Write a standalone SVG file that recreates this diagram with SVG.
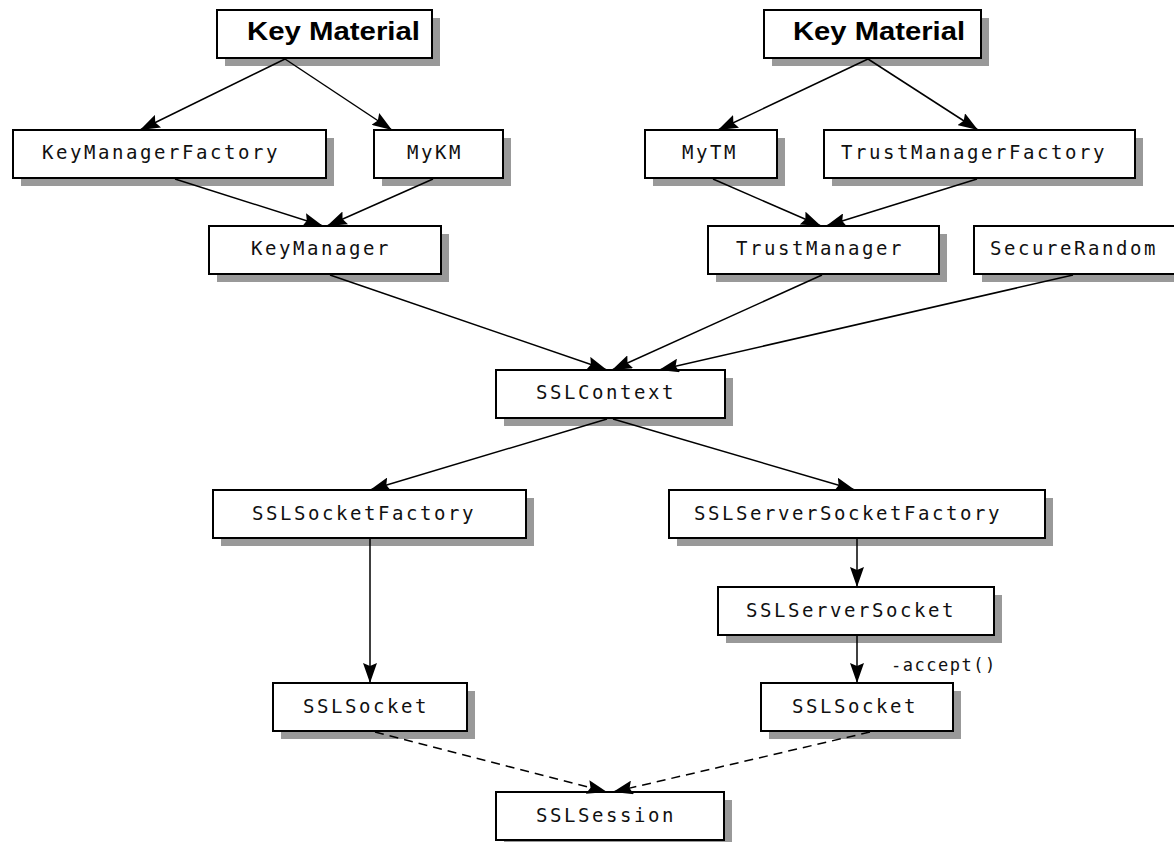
<svg xmlns="http://www.w3.org/2000/svg" width="1174" height="842" viewBox="0 0 1174 842">
<defs>
<style>
.bg{fill:#ffffff}
.sh{fill:#999999}
.box{fill:#ffffff;stroke:#000000;stroke-width:2}
.lbl{font-family:"DejaVu Sans Mono","Liberation Mono",monospace;font-size:19px;letter-spacing:2.56px;fill:#111111}
.km{font-family:"Liberation Sans",Arial,sans-serif;font-size:25px;font-weight:bold;fill:#000000}
.note{font-family:"DejaVu Sans Mono","Liberation Mono",monospace;font-size:17px;letter-spacing:1.5px;fill:#111111}
.ln{stroke:#000000;stroke-width:1.5;fill:none}
.dash{stroke-dasharray:9 6}
</style>
<marker id="ah" viewBox="0 0 20 14" refX="20" refY="7" markerWidth="20" markerHeight="14" markerUnits="userSpaceOnUse" orient="auto">
<path d="M0,0 L20,7 L0,14 L3,7 Z" fill="#000000"/>
</marker>
</defs>
<rect class="bg" x="0" y="0" width="1174" height="842"/>

<g id="keymaterial1">
<rect class="sh" x="225" y="18" width="215" height="48"/>
<rect class="box" x="217" y="10" width="215" height="48"/>
<text class="km" x="247" y="40" textLength="173" lengthAdjust="spacingAndGlyphs">Key Material</text>
</g>
<g id="keymaterial2">
<rect class="sh" x="772" y="18" width="217" height="48"/>
<rect class="box" x="764" y="10" width="217" height="48"/>
<text class="km" x="793" y="40" textLength="172" lengthAdjust="spacingAndGlyphs">Key Material</text>
</g>
<g id="keymanagerfactory">
<rect class="sh" x="21" y="138" width="313" height="48"/>
<rect class="box" x="13" y="130" width="313" height="48"/>
<text class="lbl" x="42" y="159">KeyManagerFactory</text>
</g>
<g id="mykm">
<rect class="sh" x="382" y="138" width="129" height="48"/>
<rect class="box" x="374" y="130" width="129" height="48"/>
<text class="lbl" x="407" y="159">MyKM</text>
</g>
<g id="mytm">
<rect class="sh" x="653" y="138" width="132" height="48"/>
<rect class="box" x="645" y="130" width="132" height="48"/>
<text class="lbl" x="682" y="159">MyTM</text>
</g>
<g id="trustmanagerfactory">
<rect class="sh" x="832" y="138" width="311" height="48"/>
<rect class="box" x="824" y="130" width="311" height="48"/>
<text class="lbl" x="841" y="159">TrustManagerFactory</text>
</g>
<g id="keymanager">
<rect class="sh" x="217" y="234" width="232" height="48"/>
<rect class="box" x="209" y="226" width="232" height="48"/>
<text class="lbl" x="251" y="255">KeyManager</text>
</g>
<g id="trustmanager">
<rect class="sh" x="716" y="234" width="231" height="48"/>
<rect class="box" x="708" y="226" width="231" height="48"/>
<text class="lbl" x="736" y="255">TrustManager</text>
</g>
<g id="securerandom">
<rect class="sh" x="982" y="234" width="211" height="48"/>
<rect class="box" x="974" y="226" width="211" height="48"/>
<text class="lbl" x="990" y="255">SecureRandom</text>
</g>
<g id="sslcontext">
<rect class="sh" x="504" y="378" width="229" height="48"/>
<rect class="box" x="496" y="370" width="229" height="48"/>
<text class="lbl" x="536" y="399">SSLContext</text>
</g>
<g id="sslsocketfactory">
<rect class="sh" x="221" y="498" width="313" height="48"/>
<rect class="box" x="213" y="490" width="313" height="48"/>
<text class="lbl" x="252" y="520">SSLSocketFactory</text>
</g>
<g id="sslserversocketfactory">
<rect class="sh" x="677" y="498" width="376" height="48"/>
<rect class="box" x="669" y="490" width="376" height="48"/>
<text class="lbl" x="694" y="520">SSLServerSocketFactory</text>
</g>
<g id="sslserversocket">
<rect class="sh" x="726" y="595" width="276" height="48"/>
<rect class="box" x="718" y="587" width="276" height="48"/>
<text class="lbl" x="746" y="617">SSLServerSocket</text>
</g>
<g id="sslsocket1">
<rect class="sh" x="281" y="691" width="194" height="48"/>
<rect class="box" x="273" y="683" width="194" height="48"/>
<text class="lbl" x="303" y="713">SSLSocket</text>
</g>
<g id="sslsocket2">
<rect class="sh" x="769" y="691" width="192" height="48"/>
<rect class="box" x="761" y="683" width="192" height="48"/>
<text class="lbl" x="792" y="713">SSLSocket</text>
</g>
<g id="sslsession">
<rect class="sh" x="504" y="800" width="228" height="48"/>
<rect class="box" x="496" y="792" width="228" height="48"/>
<text class="lbl" x="536" y="822">SSLSession</text>
</g>

<g id="connectors">
<line class="ln" x1="285" y1="59" x2="140" y2="130" marker-end="url(#ah)"/>
<line class="ln" x1="285" y1="59" x2="392" y2="130" marker-end="url(#ah)"/>
<line class="ln" x1="868" y1="59" x2="718" y2="130" marker-end="url(#ah)"/>
<line class="ln" x1="868" y1="59" x2="978" y2="130" marker-end="url(#ah)"/>
<line class="ln" x1="175" y1="179" x2="323" y2="226" marker-end="url(#ah)"/>
<line class="ln" x1="433" y1="179" x2="327" y2="226" marker-end="url(#ah)"/>
<line class="ln" x1="713" y1="179" x2="821" y2="226" marker-end="url(#ah)"/>
<line class="ln" x1="977" y1="179" x2="826" y2="226" marker-end="url(#ah)"/>
<line class="ln" x1="330" y1="275" x2="607" y2="370" marker-end="url(#ah)"/>
<line class="ln" x1="822" y1="275" x2="612" y2="370" marker-end="url(#ah)"/>
<line class="ln" x1="1073" y1="275" x2="659" y2="370" marker-end="url(#ah)"/>
<line class="ln" x1="607" y1="419" x2="370" y2="490" marker-end="url(#ah)"/>
<line class="ln" x1="613" y1="419" x2="855" y2="490" marker-end="url(#ah)"/>
<line class="ln" x1="370" y1="539" x2="370" y2="683" marker-end="url(#ah)"/>
<line class="ln" x1="857" y1="539" x2="857" y2="587" marker-end="url(#ah)"/>
<line class="ln" x1="857" y1="636" x2="857" y2="683" marker-end="url(#ah)"/>
<line class="ln dash" x1="375" y1="732" x2="607" y2="792" marker-end="url(#ah)"/>
<line class="ln dash" x1="870" y1="732" x2="613" y2="792" marker-end="url(#ah)"/>
<text class="note" x="891" y="671">-accept()</text>
</g>
</svg>
